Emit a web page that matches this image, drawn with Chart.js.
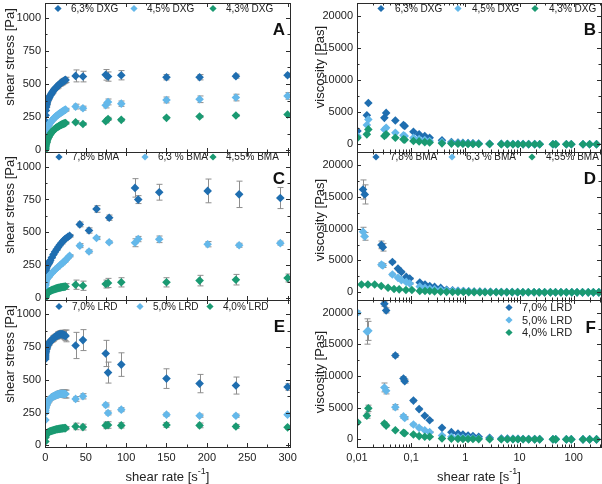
<!DOCTYPE html>
<html>
<head>
<meta charset="utf-8">
<title>Rheology panels</title>
<script src="https://cdn.jsdelivr.net/npm/chart.js@4.4.1/dist/chart.umd.min.js"></script>
<style>
  html, body { margin: 0; padding: 0; background: #fff; }
  #fig { position: relative; width: 602px; height: 484px; overflow: hidden; }
  #fig canvas { position: absolute; }
</style>
</head>
<body>
<div id="fig">
  <canvas id="cA" width="300" height="155" style="left:0;top:0"></canvas>
  <canvas id="cB" width="302" height="155" style="left:300px;top:0"></canvas>
  <canvas id="cC" width="300" height="154" style="left:0;top:149px"></canvas>
  <canvas id="cD" width="302" height="154" style="left:300px;top:149px"></canvas>
  <canvas id="cE" width="300" height="187" style="left:0;top:297px"></canvas>
  <canvas id="cF" width="302" height="187" style="left:300px;top:297px"></canvas>
</div>
<script>
// --- tick values / labels ---
const rateTicks = [0, 50, 100, 150, 200, 250, 300];
const stressTicks = [0, 250, 500, 750, 1000];
const viscTicks = [0, 5000, 10000, 15000, 20000];
const logRateTicks = [0.01, 0.1, 1, 10, 100];
const logRateLabels = ['0,01', '0,1', '1', '10', '100'];

const dxgLabels = ['6,3% DXG', '4,5% DXG', '4,3% DXG'];
const bmaLabels = ['7,8% BMA', '6,3 % BMA', '4,55% BMA'];
const lrdLabels = ['7,0% LRD', '5,0% LRD', '4,0% LRD'];

// --- shear rate grids [1/s] ---
const rateLin = [0.01, 0.03, 0.1, 0.3, 0.6, 1, 1.5, 2, 3, 4, 5, 6, 7, 8, 9, 10, 11, 12, 13, 14, 15, 16, 17, 18, 19, 20, 21, 22, 23, 24, 25, 37.4, 46.5, 74.7, 77.6, 94, 150, 191, 236, 300];
const rateLinC = [0.01, 0.03, 0.1, 0.3, 0.6, 1, 2, 3, 4, 5, 6, 8, 10, 12, 14, 16, 18, 20, 22, 24, 26, 28, 30, 42.6, 54, 63.3, 79, 111, 115, 141, 201, 240, 291];
const rateLog = [0.0102, 0.0152, 0.0162, 0.032, 0.0345, 0.051, 0.072, 0.076, 0.11, 0.14, 0.178, 0.219, 0.37, 0.552, 0.73, 0.9, 1.12, 1.38, 1.76, 2.8, 4.6, 5.96, 7.55, 9.34, 11.6, 14.7, 19, 23.5, 41.3, 46.5, 73, 90, 148, 196, 263];
const rateLogD = [0.0129, 0.0139, 0.0282, 0.03, 0.045, 0.057, 0.066, 0.081, 0.094, 0.144, 0.18, 0.22, 0.27, 0.35, 0.45, 0.58, 0.73, 0.92, 1.15, 1.45, 1.85, 2.3, 2.9, 3.7, 4.6, 5.8, 7.3, 9.2, 11.5, 14.5, 18.5, 23, 29, 37, 46, 58, 73, 92, 115, 145, 185, 230, 290];
const rateLogD2 = [0.0121, 0.0159, 0.0212, 0.028, 0.0374, 0.0483, 0.06, 0.08, 0.103, 0.144, 0.18, 0.22, 0.27, 0.35, 0.45, 0.58, 0.73, 0.92, 1.15, 1.45, 1.85, 2.3, 2.9, 3.7, 4.6, 5.8, 7.3, 9.2, 11.5, 14.5, 18.5, 23, 29, 37, 46, 58, 73, 92, 115, 145, 185, 230, 290];

// --- A: DXG shear stress [Pa] ---
const dxg63Stress = [120, 170, 220, 265, 300, 326, 345, 358, 377, 391, 402, 413, 423, 433, 442, 451, 459, 466, 472, 478, 484, 490, 496, 501, 506, 511, 515, 519, 523, 527, 531, 561, 556, 569, 556, 566, 551, 551, 559, 566];
const dxg63StressErr = [0, 0, 0, 0, 0, 5, 5, 5, 8, 8, 8, 10, 10, 10, 10, 12, 12, 12, 12, 15, 15, 15, 15, 18, 18, 18, 20, 20, 20, 20, 20, 45, 40, 40, 35, 35, 20, 20, 15, 15];
const dxg45Stress = [40, 65, 90, 115, 135, 150, 160, 168, 180, 191, 200, 209, 217, 225, 232, 239, 245, 251, 256, 261, 266, 271, 276, 280, 284, 288, 292, 296, 300, 304, 307, 330, 318, 340, 365, 352, 380, 385, 398, 410];
const dxg45StressErr = [0, 0, 0, 0, 0, 4, 4, 4, 5, 5, 5, 6, 6, 6, 6, 7, 7, 7, 7, 8, 8, 8, 8, 9, 9, 9, 10, 10, 10, 10, 10, 18, 15, 20, 22, 20, 22, 25, 25, 25];
const dxg43Stress = [5, 12, 20, 30, 40, 50, 62, 72, 88, 101, 112, 122, 131, 139, 146, 152, 158, 163, 168, 172, 176, 180, 184, 188, 191, 194, 197, 200, 202, 204, 206, 212, 199, 219, 237, 230, 245, 255, 263, 270];
const dxg43StressErr = [0, 0, 0, 0, 0, 3, 3, 3, 4, 4, 4, 4, 5, 5, 5, 5, 5, 6, 6, 6, 6, 6, 7, 7, 7, 7, 8, 8, 8, 8, 8, 12, 10, 12, 12, 10, 8, 8, 8, 8];

// --- C: BMA shear stress [Pa] ---
const bma78Stress = [110, 140, 170, 195, 212, 225, 242, 255, 265, 275, 287, 310, 332, 353, 372, 390, 407, 422, 436, 448, 458, 467, 475, 561, 515, 678, 612, 838, 749, 805, 815, 789, 761];
const bma78StressErr = [0, 0, 0, 0, 0, 0, 5, 5, 5, 5, 6, 6, 7, 7, 8, 8, 9, 9, 10, 10, 10, 10, 10, 18, 20, 25, 20, 70, 30, 60, 90, 100, 80];
const bma63Stress = [60, 80, 100, 118, 130, 140, 150, 158, 165, 172, 180, 193, 206, 218, 229, 240, 251, 262, 273, 284, 296, 310, 323, 400, 356, 458, 426, 422, 450, 448, 411, 403, 419];
const bma63StressErr = [0, 0, 0, 0, 0, 0, 4, 4, 4, 4, 5, 5, 5, 6, 6, 6, 7, 7, 7, 8, 8, 8, 8, 15, 12, 12, 10, 30, 20, 25, 20, 15, 15];
const bma455Stress = [5, 10, 15, 20, 25, 30, 34, 38, 44, 49, 53, 57, 60, 63, 66, 68, 70, 72, 74, 76, 78, 80, 81, 82, 84, 85, 86, 87, 88, 89, 90, 104, 96, 109, 117, 122, 122, 135, 142, 155];
const bma455StressErr = [0, 0, 0, 0, 0, 3, 3, 3, 4, 4, 5, 5, 6, 6, 7, 7, 8, 8, 9, 9, 10, 10, 11, 12, 13, 14, 15, 16, 18, 20, 22, 35, 35, 30, 35, 35, 35, 40, 40, 30];

// --- E: LRD shear stress [Pa] ---
const lrd70Stress = [660, 675, 690, 705, 715, 730, 742, 752, 766, 777, 785, 793, 800, 806, 812, 818, 823, 828, 832, 836, 840, 843, 846, 848, 849, 849, 848, 846, 843, 840, 836, 763, 804, 702, 556, 617, 510, 472, 457, 446];
const lrd70StressErr = [0, 0, 0, 0, 0, 10, 10, 10, 12, 12, 15, 15, 15, 18, 18, 20, 20, 20, 22, 22, 25, 25, 25, 28, 28, 30, 30, 30, 35, 40, 45, 100, 80, 100, 80, 90, 75, 70, 65, 25];
const lrd50Stress = [195, 250, 265, 280, 292, 302, 312, 320, 332, 342, 350, 357, 362, 367, 371, 375, 378, 381, 384, 386, 388, 390, 392, 393, 394, 395, 395, 395, 394, 393, 392, 355, 375, 309, 248, 273, 235, 227, 227, 235];
const lrd50StressErr = [0, 0, 0, 0, 0, 8, 8, 8, 10, 10, 12, 12, 14, 14, 16, 16, 18, 18, 20, 20, 22, 22, 24, 24, 26, 26, 28, 28, 30, 30, 30, 18, 20, 15, 15, 15, 12, 12, 12, 12];
const lrd40Stress = [30, 60, 70, 78, 84, 88, 92, 95, 99, 102, 105, 108, 110, 112, 114, 116, 118, 120, 121, 123, 124, 125, 126, 127, 128, 129, 130, 131, 131, 132, 132, 145, 140, 153, 156, 153, 156, 153, 145, 138];
const lrd40StressErr = [0, 0, 0, 0, 0, 4, 4, 4, 5, 5, 5, 6, 6, 6, 7, 7, 7, 8, 8, 8, 9, 9, 9, 10, 10, 10, 11, 11, 12, 12, 12, 25, 22, 25, 25, 20, 18, 18, 15, 15];

// --- B: DXG viscosity [Pa s] ---
const dxg63Visc = [2060, 4530, 6430, 4120, 4890, 3710, 2990, 2840, 1950, 1550, 1280, 1020, 620, 360, 280, 220, 180, 150, 120, 90, 60, 50, 40, 35, 30, 25, 20, 18, 12, 11, 8, 7, 5, 4, 3];
const dxg45Visc = [1300, 3000, 3860, 2300, 2570, 1800, 1390, 1300, 1020, 800, 650, 520, 330, 220, 170, 140, 115, 95, 80, 55, 40, 33, 27, 23, 20, 17, 14, 12, 8, 7, 5, 4, 3, 2, 2];
const dxg43Visc = [1000, 1550, 2320, 1300, 1550, 1020, 770, 700, 510, 450, 330, 280, 150, 110, 90, 75, 65, 55, 45, 35, 25, 21, 18, 15, 13, 11, 9, 8, 5, 5, 3, 3, 2, 2, 1];

// --- D: BMA viscosity [Pa s] ---
const bma78Visc = [16120, 15350, 7440, 7070, 4750, 3720, 3200, 2420, 2170, 1550, 1240, 980, 850, 700, 400, 320, 260, 210, 170, 140, 110, 90, 75, 60, 50, 42, 35, 29, 24, 20, 17, 14, 12, 10, 8, 7, 6, 5, 4, 3, 3, 2, 2];
const bma78ViscErr = [1500, 1500, 600, 600, 200, 150, 150, 100, 100, 80, 60, 50, 40, 30, 20, 0, 0, 0, 0, 0, 0, 0, 0, 0, 0, 0, 0, 0, 0, 0, 0, 0, 0, 0, 0, 0, 0, 0, 0, 0, 0, 0, 0];
const bma63Visc = [9500, 8770, 4340, 4200, 2790, 2270, 1900, 1640, 1390, 900, 700, 560, 480, 380, 300, 240, 190, 150, 120, 100, 80, 65, 55, 45, 38, 32, 27, 22, 18, 15, 13, 11, 9, 8, 7, 6, 5, 4, 3, 3, 2, 2, 2];
const bma63ViscErr = [700, 600, 300, 300, 200, 180, 150, 150, 120, 80, 60, 50, 40, 30, 20, 0, 0, 0, 0, 0, 0, 0, 0, 0, 0, 0, 0, 0, 0, 0, 0, 0, 0, 0, 0, 0, 0, 0, 0, 0, 0, 0, 0];
const bma455Visc = [1240, 1240, 1240, 1000, 720, 520, 470, 360, 360, 210, 210, 210, 150, 100, 80, 65, 55, 45, 38, 32, 27, 22, 18, 15, 12, 10, 8, 7, 6, 5, 4, 3, 3, 2, 2, 2, 1, 1, 1, 1, 1, 1, 1];

// --- F: LRD viscosity [Pa s] ---
const lrd70Visc = [30000, 26000, 25000, 21390, 20360, 13240, 9610, 9190, 6120, 4780, 3740, 3010, 1820, 1140, 930, 780, 620, 520, 410, 260, 150, 120, 100, 85, 70, 60, 50, 40, 25, 22, 15, 13, 9, 7, 5];
const lrd70ViscErr = [0, 0, 0, 400, 400, 300, 300, 300, 200, 150, 100, 100, 80, 0, 0, 0, 0, 0, 0, 0, 0, 0, 0, 0, 0, 0, 0, 0, 0, 0, 0, 0, 0, 0, 0];
const lrd50Visc = [19990, 17030, 17130, 8200, 7680, 5090, 3630, 3370, 2340, 1820, 1450, 1140, 620, 420, 330, 270, 220, 180, 150, 100, 70, 58, 48, 40, 34, 28, 23, 20, 12, 11, 8, 7, 5, 4, 3];
const lrd50ViscErr = [300, 2000, 1500, 700, 500, 400, 300, 250, 200, 150, 100, 80, 60, 0, 0, 0, 0, 0, 0, 0, 0, 0, 0, 0, 0, 0, 0, 0, 0, 0, 0, 0, 0, 0, 0];
const lrd40Visc = [2700, 3740, 4900, 2490, 2180, 1450, 1040, 970, 780, 520, 410, 410, 150, 110, 90, 75, 65, 55, 45, 35, 25, 21, 18, 15, 13, 11, 9, 8, 5, 5, 3, 3, 2, 2, 1];
const lrd40ViscErr = [200, 400, 500, 250, 200, 100, 100, 80, 60, 50, 40, 40, 30, 0, 0, 0, 0, 0, 0, 0, 0, 0, 0, 0, 0, 0, 0, 0, 0, 0, 0, 0, 0, 0, 0];

const palette = ['#1f6eb0', '#64b8ea', '#1a9a72'];
const FONT = "'Liberation Sans', Arial, sans-serif";
const INK = '#222';

// --- helpers ---

function minorTicks(majors, min, max, log) {
  const out = [];
  if (log) {
    for (let d = majors[0] / 10; d < max; d *= 10) {
      for (let k = 2; k < 10; k++) {
        const v = k * d;
        if (v > min && v < max) out.push(v);
      }
    }
  } else {
    const step = majors[1] - majors[0];
    for (let v = majors[0] - step / 2; v < max; v += step) if (v > min) out.push(v);
  }
  return out;
}

function drawTicks(ctx, a, scale, values, len, horizontal) {
  for (const v of values) {
    const p = Math.round(scale.getPixelForValue(v)) + 0.5;
    ctx.beginPath();
    if (horizontal) {
      if (p < a.left || p > a.right + 1) continue;
      ctx.moveTo(p, a.bottom); ctx.lineTo(p, a.bottom - len);
      ctx.moveTo(p, a.top); ctx.lineTo(p, a.top + len);
    } else {
      if (p < a.top || p > a.bottom + 1) continue;
      ctx.moveTo(a.left, p); ctx.lineTo(a.left + len, p);
      ctx.moveTo(a.right, p); ctx.lineTo(a.right - len, p);
    }
    ctx.stroke();
  }
}

function diamond(ctx, cx, cy, r, color) {
  ctx.beginPath();
  ctx.moveTo(cx, cy - r); ctx.lineTo(cx + r, cy); ctx.lineTo(cx, cy + r); ctx.lineTo(cx - r, cy);
  ctx.closePath();
  ctx.fillStyle = color;
  ctx.fill();
}

// per-panel plugin: error bars, frame with inward ticks, legend, letter, axis titles
function decor(p) {
  return {
    id: 'decor',
    beforeDatasetsDraw(chart) {
      const { ctx, chartArea: a, scales: { x, y } } = chart;
      ctx.save();
      ctx.beginPath();
      ctx.rect(a.left, a.top, a.right - a.left, a.bottom - a.top);
      ctx.clip();
      ctx.strokeStyle = '#8e8e8e';
      ctx.lineWidth = 1;
      for (const ds of chart.data.datasets) {
        if (!ds.errors) continue;
        ds.data.forEach((pt, i) => {
          const e = ds.errors[i];
          if (!e) return;
          const px = Math.round(x.getPixelForValue(pt.x)) + 0.5;
          const y1 = y.getPixelForValue(pt.y - e), y2 = y.getPixelForValue(pt.y + e);
          ctx.beginPath();
          ctx.moveTo(px, y1); ctx.lineTo(px, y2);
          ctx.moveTo(px - 3, y1); ctx.lineTo(px + 3, y1);
          ctx.moveTo(px - 3, y2); ctx.lineTo(px + 3, y2);
          ctx.stroke();
        });
      }
      ctx.restore();
    },
    afterDraw(chart) {
      const { ctx, chartArea: a, scales: { x, y } } = chart;
      ctx.save();
      ctx.strokeStyle = '#2b2b2b';
      ctx.lineWidth = 1;
      drawTicks(ctx, a, x, p.xTicks, 4, true);
      drawTicks(ctx, a, x, minorTicks(p.xTicks, x.min, x.max, p.log), 2.5, true);
      drawTicks(ctx, a, y, p.yTicks, 4, false);
      drawTicks(ctx, a, y, minorTicks(p.yTicks, y.min, y.max, false), 2.5, false);
      ctx.strokeRect(Math.round(a.left) + 0.5, Math.round(a.top) + 0.5,
        Math.round(a.right - a.left), Math.round(a.bottom - a.top));

      // legend
      const lg = p.legend;
      ctx.font = `${lg.size}px ${FONT}`;
      ctx.textBaseline = 'middle';
      ctx.textAlign = 'left';
      chart.data.datasets.forEach((ds, i) => {
        const cx = a.left + lg.pos[i][0], cy = a.top + lg.pos[i][1];
        diamond(ctx, cx, cy, 3.6, ds.backgroundColor);
        ctx.fillStyle = INK;
        ctx.fillText(ds.label, cx + lg.gap, cy + 0.5);
      });

      // panel letter
      ctx.font = `bold 17px ${FONT}`;
      ctx.textAlign = 'right';
      ctx.fillStyle = '#111';
      ctx.fillText(p.letter, a.right - 5, a.top + p.letterDy);

      // y title
      ctx.save();
      ctx.translate(p.yTitleX, p.yTitleY);
      ctx.rotate(-Math.PI / 2);
      ctx.font = `13px ${FONT}`;
      ctx.textAlign = 'center';
      ctx.fillStyle = INK;
      ctx.fillText(p.yTitle, 0, 0);
      ctx.restore();

      // x title with superscript
      if (p.xTitleY) {
        const main = 'shear rate [s', sup = '-1', end = ']';
        ctx.font = `13px ${FONT}`;
        const w1 = ctx.measureText(main).width, w3 = ctx.measureText(end).width;
        ctx.font = `9px ${FONT}`;
        const w2 = ctx.measureText(sup).width;
        const sx = (a.left + a.right) / 2 - (w1 + w2 + w3) / 2;
        ctx.textAlign = 'left';
        ctx.fillStyle = INK;
        ctx.font = `13px ${FONT}`;
        ctx.fillText(main, sx, p.xTitleY);
        ctx.fillText(end, sx + w1 + w2, p.xTitleY);
        ctx.font = `9px ${FONT}`;
        ctx.fillText(sup, sx + w1, p.xTitleY - 5);
      }
      ctx.restore();
    },
  };
}

function makePanel(id, p) {
  const tickFont = { family: FONT, size: 11 };
  new Chart(document.getElementById(id), {
    type: 'scatter',
    data: {
      datasets: p.series.map((s, i) => ({
        label: s.label,
        data: s.x.map((x, j) => ({ x, y: s.y[j] })),
        errors: s.err || null,
        backgroundColor: palette[i],
        borderColor: palette[i],
        borderWidth: 0,
        pointStyle: 'rectRot',
        pointRadius: 4.3,
        pointHoverRadius: 4.3,
        order: 3 - i,
      })),
    },
    options: {
      responsive: false,
      animation: false,
      events: [],
      layout: { padding: p.pad, autoPadding: false },
      scales: {
        x: {
          type: p.log ? 'logarithmic' : 'linear',
          min: p.xMin, max: p.xMax,
          display: p.showX,
          grid: { display: false, drawTicks: false },
          border: { display: false },
          afterBuildTicks: s => { s.ticks = p.xTicks.map(v => ({ value: v })); },
          ticks: {
            font: tickFont, color: INK, padding: 4, maxRotation: 0, autoSkip: false,
            callback: (v, i) => (p.log ? logRateLabels[i] : String(v)),
          },
          afterFit: s => { s.height = p.showX ? 37 : 0; s.paddingLeft = 0; s.paddingRight = 0; },
        },
        y: {
          type: 'linear',
          min: p.yMin, max: p.yMax,
          grid: { display: false, drawTicks: false },
          border: { display: false },
          afterBuildTicks: s => { s.ticks = p.yTicks.map(v => ({ value: v })); },
          ticks: { font: tickFont, color: INK, padding: 4, callback: v => String(v) },
          afterFit: s => { s.width = p.yWidth; s.paddingTop = 0; s.paddingBottom = 0; },
        },
      },
      plugins: { legend: { display: false }, tooltip: { enabled: false } },
    },
    plugins: [decor(p)],
  });
}

const left = { log: false, xMin: -0.5, xMax: 303, xTicks: rateTicks, yMin: -12, yMax: 1110, yTicks: stressTicks, yWidth: 45, yTitle: 'shear stress [Pa]', yTitleX: 10 };
const right = { log: true, xMin: 0.01, xMax: 318, xTicks: logRateTicks, yMin: -1200, yMax: 22000, yTicks: viscTicks, yWidth: 57, yTitle: 'viscosity [Pas]', yTitleX: 20 };

makePanel('cA', Object.assign({}, left, {
  showX: false, pad: { top: 3, bottom: 3, left: 0, right: 10 },
  series: [
    { label: dxgLabels[0], x: rateLin, y: dxg63Stress, err: dxg63StressErr },
    { label: dxgLabels[1], x: rateLin, y: dxg45Stress, err: dxg45StressErr },
    { label: dxgLabels[2], x: rateLin, y: dxg43Stress, err: dxg43StressErr },
  ],
  legend: { pos: [[13, 5.5], [89, 5.5], [168, 5.5]], gap: 13, size: 10 },
  letter: 'A', letterDy: 27, yTitleY: 57,
}));

makePanel('cC', Object.assign({}, left, {
  showX: false, pad: { top: 3, bottom: 3, left: 0, right: 10 },
  series: [
    { label: bmaLabels[0], x: rateLinC, y: bma78Stress, err: bma78StressErr },
    { label: bmaLabels[1], x: rateLinC, y: bma63Stress, err: bma63StressErr },
    { label: bmaLabels[2], x: rateLin, y: bma455Stress, err: bma455StressErr },
  ],
  legend: { pos: [[14, 5], [100, 5], [168, 5]], gap: 13, size: 10 },
  letter: 'C', letterDy: 27, yTitleY: 56,
}));

makePanel('cE', Object.assign({}, left, {
  showX: true, pad: { top: 3, bottom: 0, left: 0, right: 10 },
  series: [
    { label: lrdLabels[0], x: rateLin, y: lrd70Stress, err: lrd70StressErr },
    { label: lrdLabels[1], x: rateLin, y: lrd50Stress, err: lrd50StressErr },
    { label: lrdLabels[2], x: rateLin, y: lrd40Stress, err: lrd40StressErr },
  ],
  legend: { pos: [[14, 6.5], [95, 6.5], [165, 6.5]], gap: 13, size: 10 },
  letter: 'E', letterDy: 27, yTitleY: 57, xTitleY: 180,
}));

makePanel('cB', Object.assign({}, right, {
  showX: false, pad: { top: 3, bottom: 3, left: 0, right: 1 },
  series: [
    { label: dxgLabels[0], x: rateLog, y: dxg63Visc },
    { label: dxgLabels[1], x: rateLog, y: dxg45Visc },
    { label: dxgLabels[2], x: rateLog, y: dxg43Visc },
  ],
  legend: { pos: [[24, 5.5], [101, 5.5], [178, 5.5]], gap: 14, size: 10 },
  letter: 'B', letterDy: 27, yTitleY: 67,
}));

makePanel('cD', Object.assign({}, right, {
  showX: false, pad: { top: 3, bottom: 3, left: 0, right: 1 },
  series: [
    { label: bmaLabels[0], x: rateLogD, y: bma78Visc, err: bma78ViscErr },
    { label: bmaLabels[1], x: rateLogD, y: bma63Visc, err: bma63ViscErr },
    { label: bmaLabels[2], x: rateLogD2, y: bma455Visc },
  ],
  legend: { pos: [[19, 5], [95, 5], [175, 5]], gap: 14, size: 10 },
  letter: 'D', letterDy: 27, yTitleY: 71,
}));

makePanel('cF', Object.assign({}, right, {
  showX: true, pad: { top: 3, bottom: 0, left: 0, right: 1 },
  series: [
    { label: lrdLabels[0], x: rateLog, y: lrd70Visc, err: lrd70ViscErr },
    { label: lrdLabels[1], x: rateLog, y: lrd50Visc, err: lrd50ViscErr },
    { label: lrdLabels[2], x: rateLog, y: lrd40Visc, err: lrd40ViscErr },
  ],
  legend: { pos: [[152, 7.5], [152, 20], [152, 32.5]], gap: 13, size: 11 },
  letter: 'F', letterDy: 28, yTitleY: 75, xTitleY: 180,
}));
</script>
</body>
</html>
